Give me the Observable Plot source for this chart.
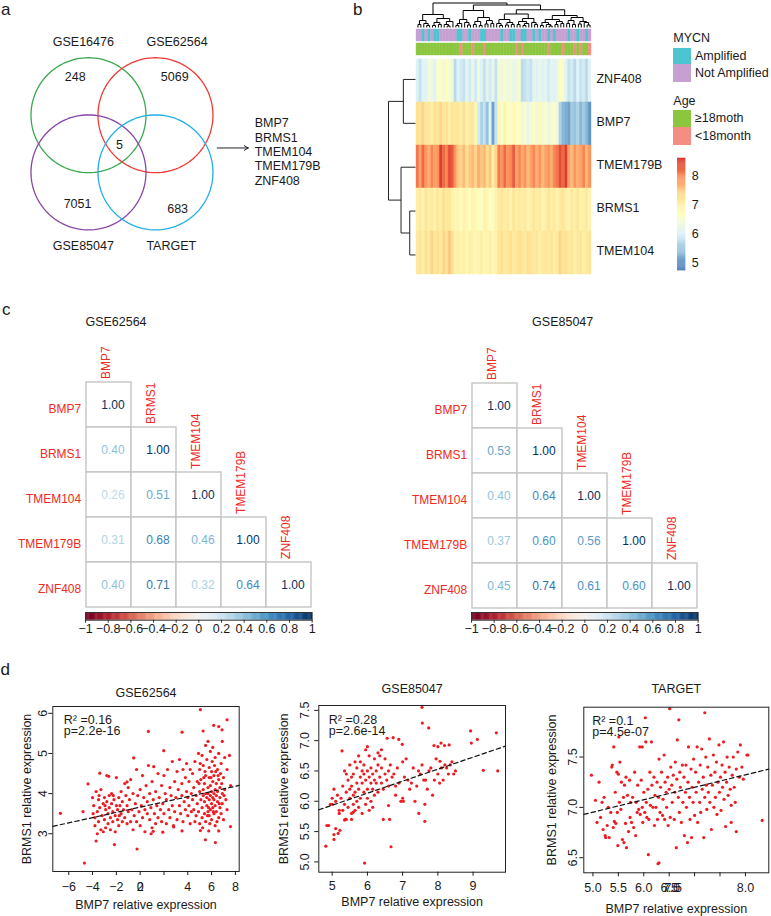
<!DOCTYPE html>
<html><head><meta charset="utf-8">
<script src="https://cdn.jsdelivr.net/npm/d3@7"></script>
<script src="https://cdn.jsdelivr.net/npm/@observablehq/plot@0.6"></script>
<style>
body{margin:0;background:#fff;}
#root{position:relative;width:771px;height:916px;overflow:hidden;font-family:"Liberation Sans",Arial,Helvetica,sans-serif;color:#1a1a1a;background:#fff;}
.t{position:absolute;white-space:nowrap;line-height:1;}
</style></head><body><div id="root"></div>
<script>
// ---------------- DATA ----------------
// panel a: Venn
const vennSets = ["GSE16476","GSE62564","GSE85047","TARGET"];
const vennColors = ["#37a84f","#ee3a36","#8746a6","#22aeea"];
const vennCX = [0, 1.165, 0, 1.165];
const vennCY = [0, 0, -0.995, -0.995];
const vennLabelX = [-0.09, 1.54, -0.09, 1.44];
const vennLabelY = [1.27, 1.27, -2.28, -2.28];
const vennCounts = ["248","5069","5","7051","683"];
const vennCountX = [-0.23, 1.50, 0.54, -0.19, 1.55];
const vennCountY = [0.66, 0.66, -0.51, -1.55, -1.63];
const sharedGenes = ["BMP7","BRMS1","TMEM104","TMEM179B","ZNF408"];
const sharedGeneY = [-0.13, -0.39, -0.64, -0.89, -1.15];

// panel b: heatmap
const heatGenes = ["ZNF408","BMP7","TMEM179B","BRMS1","TMEM104"];
const exprZNF408 = [6.0,5.8,6.1,6.0, 6.4,6.3,6.0, 6.5,6.6,6.4,6.7,6.5,6.3, 5.7,6.0, 5.9,5.8,6.1,5.9,6.2,5.9, 6.4,6.0, 5.8,6.1,5.9,6.2,5.8, 6.4,6.3,6.5,6.3,6.4,6.2,6.3,6.5, 5.7,5.8,5.9,5.8, 6.1,6.0,6.2,6.0,6.1,5.9,6.1,6.0,6.2, 6.7,6.5,6.0, 5.8,5.9,5.7,6.0,5.8,5.9,5.7,6.0];
const exprBMP7 = [7.3,7.2,7.4,7.1, 7.2,7.0,7.3, 7.2,7.4,7.1,7.3,7.0,7.2, 7.1,7.2, 7.0,7.3,6.9,7.1,7.2,6.8, 5.9,5.6, 5.8,5.4,6.0,5.1,5.8, 6.8,6.6,6.9,6.7,6.5,6.8,6.6,6.7, 6.3,6.5,6.2,6.4, 6.6,6.3,6.8,6.4,6.5,6.2,6.4,6.6,6.3, 5.6,5.3,5.2, 5.1,5.5,5.4,5.6,5.3,5.5,5.3,5.0];
const exprTMEM179B = [8.1,7.8,8.2,7.9, 7.7,8.0,7.8, 7.9,8.5,8.2,8.0,8.4,8.3, 7.9,7.5, 7.4,7.6,7.3,7.5,7.6,7.4, 7.7,7.5, 7.6,7.3,7.5,7.0,7.4, 8.1,7.9,8.2,7.9,8.0,8.3,7.8,8.0, 7.7,7.9,7.6,7.8, 8.0,7.7,7.9,7.6,7.8,7.9,7.7,8.0,8.1, 8.4,8.2,8.5, 7.8,7.6,7.9,7.7,7.8,8.0,7.6,7.9];
const exprBRMS1 = [7.0,7.1,6.9,7.2, 7.0,7.1,6.9, 7.2,7.0,7.3,7.1,7.2,6.9, 6.8,6.9, 6.7,6.9,6.8,6.7,6.9,6.8, 6.7,6.6, 6.9,6.8,6.6,6.7,6.9, 7.1,7.2,7.0,7.1,6.9,7.2,7.0,7.1, 7.0,7.1,6.9,7.0, 7.2,7.0,7.1,6.9,7.0,7.2,7.0,7.1,6.9, 7.1,7.2,7.0, 6.9,7.1,7.0,7.2,6.9,7.0,7.1,6.9];
const exprTMEM104 = [7.1,7.2,7.0,7.3, 7.1,7.4,7.2, 7.3,7.1,7.4,7.2,7.5,7.3, 6.9,7.0, 6.9,7.0,6.8,7.0,6.9,6.8, 6.9,7.0, 6.8,6.9,7.0,6.8,6.9, 7.2,7.3,7.1,7.2,7.3,7.1,7.2,7.3, 7.2,7.1,7.3,7.2, 7.1,7.2,7.0,7.1,7.2,7.1,7.2,7.0,7.1, 7.4,7.2,7.3, 7.1,7.2,7.0,7.1,7.2,7.0,7.1,7.2];
const mycnAmplified = [0,0,1,0,1,0,1,1,0,0, 0,0,0,0,1,1,0,0,1,0, 0,0,1,1,0,0,0,0,0,1, 0,0,1,1,0,0,1,1,0,0, 1,0,1,0,0,1,0,1,0,0, 0,0,1,0,0,1,0,0,1,0];
const ageUnder18 = [0,0,0,0,0,0,0,0,0,0, 0,0,0,0,0,1,0,0,0,1, 0,0,0,1,0,0,0,0,0,0, 0,0,0,0,1,0,1,0,0,0, 0,0,0,0,0,1,0,0,0,0, 1,0,0,0,1,0,1,0,0,1];
const mycnLevels = ["Amplified","Not Amplified"];
const mycnColors = ["#4dc5d0","#c7a0d2"];
const ageLevels = ["\u226518moth","<18month"];
const ageColors = ["#8cc63f","#f48e82"];
const heatPalette = ["#4575B4","#91BFDB","#E0F3F8","#FFFFBF","#FEE090","#FC8D59","#D73027"];
const heatRange = [4.72, 8.6];
const heatTicks = [5,6,7,8];
// column dendrogram: [height, left, right], 0 = leaf
const colTree = [24.5,
  [13,
    [7,[3,0,0],[4,0,[2,0,0]]],
    [9,[5,[2,0,0],[3,0,0]],[6,[3,0,[1.5,0,0]],0]]],
  [22.5,
    [17,
      [8,[4,[2,0,0],0],[5,0,[2.5,0,0]]],
      [10,[6,[3,0,0],[2,0,0]],[7,[3.5,0,0],[4,0,0]]]],
    [17.7,
      [13.5,
        [8,[4,0,[2,0,0]],[5,[2.5,0,0],[3,0,0]]],
        [9,[6,[3,0,0],[4,[2,0,0],0]],[5,0,[3,0,0]]]],
      [12,
        [8,[5,[2,0,0],[3,0,[1.5,0,0]]],[6,[3,0,0],[4,0,0]]],
        [10,[7,[4,0,0],[3,0,0]],[6,[3.5,0,0],[5,0,[2.5,0,0]]]]]]]];
const rowTree = [26.7, [12,"ZNF408","BMP7"], [14.3,"TMEM179B",[5.7,"BRMS1","TMEM104"]]];

// panel c: correlation matrices (lower triangle)
const corrGenes = ["BMP7","BRMS1","TMEM104","TMEM179B","ZNF408"];
const corrGSE62564 = [[1.00],[0.40,1.00],[0.26,0.51,1.00],[0.31,0.68,0.46,1.00],[0.40,0.71,0.32,0.64,1.00]];
const corrGSE85047 = [[1.00],[0.53,1.00],[0.40,0.64,1.00],[0.37,0.60,0.56,1.00],[0.45,0.74,0.61,0.60,1.00]];
const corrTicks = [-1,-0.8,-0.6,-0.4,-0.2,0,0.2,0.4,0.6,0.8,1];

// panel d: scatter data [BMP7, BRMS1]
const ptsGSE62564 = [
[-4.0,3.9],[-3.9,3.7],[-3.8,3.4],[-3.8,3.2],[-3.7,4.05],[-3.6,3.55],[-3.6,3.0],[-3.5,3.85],[-3.5,3.3],[-3.4,3.65],[-3.3,3.1],[-3.3,4.1],[-3.2,3.45],[-3.1,3.75],[-3.1,3.05],[-3.0,3.9],[-3.0,3.35],[-2.9,3.6],[-2.9,3.15],[-2.8,4.45],[-2.8,3.8],[-2.7,3.5],[-2.7,3.25],[-2.6,3.95],[-2.6,3.65],[-2.5,3.1],[-2.5,3.4],[-2.4,3.75],[-2.4,4.0],[-2.3,3.55],[-2.3,3.3],[-2.2,3.85],[-2.1,3.45],[-2.1,3.05],[-2.0,3.7],[-2.0,4.4],[-1.9,3.6],[-1.9,3.35],[-1.8,3.9],[-1.8,3.2],[-1.7,3.7],[-1.6,3.5],[-1.6,4.05],[-1.5,3.3],[-1.5,3.8],[-1.4,3.6],[-1.3,4.25],[-1.3,3.4],[-1.2,3.95],[-1.1,3.7],[-1.1,3.25],[-1.0,3.55],[-1.0,4.15],[-3.95,3.5],[-3.45,3.95],[-2.95,3.7],[-2.25,3.95],[-1.75,3.45],
[-0.9,3.85],[-0.8,3.3],[-0.8,4.35],[-0.7,3.6],[-0.6,3.1],[-0.6,4.0],[-0.5,3.45],[-0.4,3.75],[-0.3,4.6],[-0.3,3.3],[-0.2,3.95],[-0.1,3.55],[0.0,3.2],[0.0,4.1],[0.1,3.7],[0.2,3.4],[0.2,4.45],[0.3,3.9],[0.4,3.6],[0.4,3.05],[0.5,4.2],[0.6,3.5],[0.6,3.8],[0.7,4.7],[0.8,3.35],[0.8,4.0],[0.9,3.65],[1.0,3.15],[1.0,4.3],[1.1,3.85],[1.2,3.5],[1.3,4.05],[1.3,3.25],[1.4,3.7],[1.5,4.5],[1.5,3.4],
[1.6,3.9],[1.7,3.6],[1.8,4.2],[1.8,3.3],[1.9,3.75],[2.0,4.45],[2.0,3.5],[2.1,4.0],[2.2,3.25],[2.2,3.85],[2.3,4.6],[2.4,3.6],[2.5,4.15],[2.5,3.4],[2.6,3.95],[2.7,3.7],[2.7,4.8],[2.8,3.2],[2.9,4.3],[2.9,3.55],[3.0,3.9],[3.1,4.55],[3.1,3.35],[3.2,4.1],[3.3,3.7],[3.3,4.85],[3.4,3.5],[3.5,4.25],[3.5,3.95],[3.6,4.6],[3.6,3.3],[3.7,3.8],[3.8,4.4],[3.8,3.6],[3.9,4.05],[3.9,4.75],[4.0,3.45],[4.0,3.9],[4.1,4.3],[4.1,3.7],[4.2,4.6],[4.2,3.25],[4.3,4.0],[4.3,3.55],
[4.4,3.85],[4.4,4.5],[4.5,3.6],[4.5,4.15],[4.6,3.3],[4.6,4.8],[4.7,3.95],[4.7,3.45],[4.8,4.3],[4.8,3.75],[4.9,5.0],[4.9,3.55],[5.0,4.05],[5.0,3.25],[5.0,4.6],[5.1,3.85],[5.1,4.35],[5.2,3.65],[5.2,4.95],[5.2,3.4],[5.3,4.1],[5.3,3.95],[5.3,4.7],[5.4,3.5],[5.4,4.25],[5.4,3.8],[5.5,5.2],[5.5,3.3],[5.5,4.0],[5.5,4.45],[5.6,3.7],[5.6,3.9],[5.6,4.85],[5.7,3.55],[5.7,4.15],[5.7,4.0],[5.7,5.3],[5.8,3.45],[5.8,3.85],[5.8,4.4],[5.8,4.65],[5.9,3.95],[5.9,3.6],[5.9,4.2],[5.9,5.05],[6.0,3.75],[6.0,4.05],[6.0,3.35],[6.0,4.55],[6.1,3.9],[6.1,4.3],[6.1,3.65],[6.1,5.15],[6.2,4.0],[6.2,3.5],[6.2,4.45],[6.2,3.85],[6.3,4.1],[6.3,3.7],[6.3,4.9],[6.3,3.2],[6.4,3.95],[6.4,4.25],[6.4,3.55],[6.5,4.6],[6.5,3.8],[6.5,4.05],[6.6,3.4],[6.6,4.35],[6.6,5.0],[6.7,3.9],[6.7,3.65],[6.7,4.15],[6.8,4.75],[6.8,3.5],[6.9,4.0],[6.9,5.3],[6.9,3.75],[7.0,4.4],[7.0,3.35],[7.1,4.1],[7.1,4.9],[7.2,3.85],[7.3,4.6],[7.3,3.6],[7.5,4.95],[7.6,4.2],[5.05,4.75],[5.45,4.55],[5.85,3.25],[6.25,4.7],[6.45,3.3],[6.75,4.5],[5.25,3.15],[5.65,3.45],[6.05,4.8],[6.55,4.45],[6.85,4.25],[4.95,4.25],[5.35,4.4],[5.75,3.65],[6.15,3.55],[6.35,4.55],[5.95,4.4],[6.65,3.75],[7.05,3.95],
[-6.7,3.51],[-4.68,2.27],[-4.8,3.55],[-4.38,4.24],[-2.16,2.73],[-0.26,2.62],[-3.7,2.82],[0.69,5.55],[3.52,5.53],[5.06,6.09],[7.3,5.84],[6.18,5.7],[6.6,5.67],[6.88,5.59],[5.29,5.56],[5.48,2.85],[6.32,2.78],[5.06,3.08],[5.76,3.07],[6.6,3.07],[7.59,3.18],[3.52,3.07],[2.82,3.17],[0.92,3.0],[1.09,3.06],[1.9,3.04],[-0.54,4.89],[1.98,5.07],[1.14,4.67],[-2.64,4.43],[-3.39,4.51],[-1.1,4.29]];
const ptsGSE85047 = [
[5.25,6.05],[5.3,5.85],[5.3,6.25],[5.35,5.95],[5.35,6.5],[5.4,6.15],[5.4,5.7],[5.45,6.35],[5.45,5.9],[5.5,6.05],[5.5,6.6],[5.55,5.8],[5.55,6.25],[5.6,6.45],[5.6,5.95],[5.6,6.1],[5.65,6.65],[5.65,5.85],[5.7,6.3],[5.7,6.0],[5.7,6.55],[5.75,6.2],[5.75,5.9],[5.8,6.4],[5.8,6.65],[5.8,6.05],[5.85,6.3],[5.85,5.8],[5.9,6.15],[5.9,6.45],[5.9,6.6],[5.95,6.35],[5.95,5.95],[6.0,6.5],[6.0,6.2],[6.0,6.05],[6.05,6.4],[6.05,6.75],[6.1,6.3],[6.1,6.0],[6.1,6.55],[6.15,6.2],[6.15,6.45],[6.2,6.35],[6.2,6.7],[6.2,6.1],[6.25,6.5],[6.25,6.3],[6.3,6.6],[6.3,6.15],[6.35,6.4],[6.35,6.75],[6.4,6.3],[6.4,6.55],[6.45,6.2],[6.5,6.45],[6.5,6.7],[6.55,6.35],[6.6,6.5],[6.6,6.25],[6.65,6.6],[6.7,6.4],[5.95,6.85],[6.4,6.85],[5.55,6.4],[5.75,6.75],[6.05,5.85],[5.5,6.2],[5.65,6.15],[5.85,6.5],[6.15,5.9],[6.3,6.8],[5.4,6.45],[6.0,6.9],
[5.0,6.05],[5.0,5.95],[5.05,5.45],[5.1,5.55],[5.1,6.0],[5.15,6.1],[5.2,5.85],[5.2,5.8],[4.85,5.6],[4.95,5.95],[5.05,6.2],
[6.75,6.45],[6.8,6.1],[6.85,6.55],[6.9,6.3],[6.95,6.0],[7.0,6.65],[7.05,6.4],[7.1,6.7],[7.15,6.35],[7.2,6.2],[7.25,6.3],[7.3,6.55],[7.4,6.25],[7.45,6.5],[7.5,6.45],[7.55,6.6],[7.6,6.35],[7.7,6.2],[7.75,6.5],[7.8,6.55],[7.85,6.1],[7.9,6.35],[7.95,6.7],[8.0,6.45],[8.05,6.3],[8.1,6.55],[8.15,6.35],[8.2,6.6],[8.25,6.55],[8.3,6.45],[8.35,6.6],[8.4,6.65],[8.45,6.45],[8.5,6.5],[7.65,6.35],[8.0,6.9],[7.0,6.05],[6.8,6.25],[7.35,6.0],
[4.82,5.26],[4.9,5.6],[5.05,5.37],[5.17,5.47],[5.22,5.52],[5.28,6.83],[5.92,4.98],[6.67,5.25],[7.55,7.55],[7.56,7.29],[7.74,7.21],[6.73,7.05],[6.56,7.04],[6.89,7.02],[6.99,6.94],[8.93,7.16],[9.12,7.02],[8.95,6.96],[9.66,7.13],[9.7,6.5],[9.29,6.51],[7.46,5.8],[7.63,5.95],[7.63,5.67],[7.02,6.0],[6.63,5.7],[6.45,5.7],[6.6,5.93],[8.19,6.92],[8.09,6.96],[8.32,6.93],[7.89,6.92],[8.06,6.66],[5.55,5.7],[5.6,5.82],[5.35,5.69],[5.37,5.7]];
const ptsTARGET = [
[5.05,7.07],[5.08,6.85],[5.12,7.25],[5.15,6.9],[5.18,7.05],[5.2,6.78],[5.22,7.1],[5.24,6.72],[5.25,6.7],
[5.28,6.82],[5.3,7.0],[5.32,6.7],[5.35,6.95],[5.37,7.4],[5.38,7.42],[5.4,6.8],[5.41,7.6],[5.42,6.86],[5.44,7.15],[5.45,6.84],[5.47,7.35],[5.48,6.95],[5.49,6.62],[5.5,7.33],
[5.52,7.05],[5.53,7.45],[5.55,6.98],[5.56,7.25],[5.58,6.68],[5.6,7.1],[5.61,6.65],[5.62,7.22],[5.64,6.84],[5.65,7.3],[5.66,6.6],[5.68,7.12],[5.7,6.76],[5.72,7.27],[5.73,6.9],[5.74,7.05],
[5.76,6.85],[5.78,7.1],[5.8,6.8],[5.82,7.35],[5.84,6.72],[5.85,7.05],[5.87,6.95],[5.88,7.22],[5.9,6.98],[5.92,7.6],[5.93,6.93],[5.95,7.27],[5.97,7.0],[5.98,6.85],[6.0,7.15],
[6.02,6.95],[6.04,7.65],[6.05,7.05],[6.06,6.9],[6.08,7.18],[6.1,6.88],[6.12,7.35],[6.13,7.02],[6.15,7.65],[6.16,7.22],[6.18,7.0],[6.2,7.3],[6.21,6.82],[6.22,7.12],[6.24,7.0],
[6.26,7.25],[6.27,6.88],[6.29,7.1],[6.3,7.48],[6.32,6.95],[6.33,7.2],[6.35,7.35],[6.37,6.92],[6.38,7.08],[6.4,7.52],[6.41,6.88],[6.42,7.25],[6.44,7.15],[6.45,7.0],[6.47,7.3],[6.48,6.82],[6.5,7.18],
[6.52,6.9],[6.53,7.4],[6.55,7.22],[6.56,7.05],[6.58,7.32],[6.6,6.88],[6.61,7.15],[6.62,7.45],[6.64,6.6],[6.65,7.28],[6.66,7.67],[6.68,7.1],[6.7,6.95],[6.71,7.35],[6.72,7.2],[6.74,6.85],
[6.76,7.42],[6.77,7.05],[6.79,7.3],[6.8,6.72],[6.82,7.15],[6.83,7.42],[6.84,7.0],[6.86,6.65],[6.87,7.25],[6.88,7.6],[6.9,7.1],[6.91,6.88],[6.93,7.38],[6.94,6.7],[6.95,7.2],[6.97,7.05],[6.98,7.48],
[7.0,6.92],[7.02,7.35],[7.03,7.15],[7.05,7.6],[7.06,6.85],[7.08,7.25],[7.1,7.05],[7.11,7.42],[7.12,6.95],[7.14,7.58],[7.15,7.18],[7.17,7.3],[7.18,6.7],[7.2,7.1],[7.22,7.5],[7.23,7.22],[7.24,6.98],
[7.26,7.4],[7.27,7.15],[7.29,7.68],[7.3,7.05],[7.32,7.32],[7.33,6.78],[7.35,7.22],[7.37,7.52],[7.38,7.0],[7.4,7.35],[7.41,7.1],[7.43,7.45],[7.44,6.93],[7.46,7.25],[7.48,7.62],[7.49,7.15],
[7.51,7.3],[7.52,6.97],[7.54,7.42],[7.55,7.2],[7.57,7.65],[7.58,7.08],[7.6,7.35],[7.61,6.81],[7.63,7.25],[7.64,7.5],[7.66,7.12],[7.68,7.4],[7.7,7.18],[7.72,7.02],[7.74,7.32],
[7.76,7.5],[7.78,7.2],[7.8,7.05],[7.82,7.38],[7.85,7.55],[7.88,7.3],[7.9,7.62],[7.93,7.4],[7.96,7.28],[8.05,7.52],
[4.97,7.32],[8.33,6.87],[6.51,7.98],[7.2,7.94],[6.03,7.89],[6.69,7.87],[6.09,6.53],[6.3,6.45],[6.28,6.44],[5.51,7.7],[5.97,7.6],[8.03,7.52],[7.82,6.76],[7.72,6.85]];
const fitGSE62564 = {x:[-7.34, 8.32], y:[3.185, 4.203]};
const fitGSE85047 = {x:[4.62, 9.92], y:[5.86, 6.91]};
const fitTARGET = {x:[4.82, 8.46], y:[6.93, 7.38]};

// ---------------- RENDER ----------------
const FONT = '"Liberation Sans", Arial, Helvetica, sans-serif';
const root = document.getElementById("root");
function place(node, left, top){ node.style.position="absolute"; node.style.left=left+"px"; node.style.top=top+"px"; root.appendChild(node); return node; }
function mk(o){ return Plot.plot(Object.assign({}, o, {style:{fontFamily:FONT, fontSize:"12.5px", background:"transparent", overflow:"visible", color:"#1a1a1a"}})); }
function txt(str, x, y, {size=12.5, anchor="start", baseline=false, color="#1a1a1a"}={}){
  const d = document.createElement("div"); d.className="t"; d.textContent=str;
  d.style.fontSize=size+"px"; d.style.color=color;
  d.style.left=x+"px";
  d.style.top=(baseline ? y-0.8465*size : y-0.49*size)+"px";
  if(anchor==="middle") d.style.transform="translateX(-50%)";
  root.appendChild(d); return d;
}
function dendroSegments(tree, leafPos){
  const segs=[];
  (function walk(node){
    if(!Array.isArray(node)) return {p:leafPos(node), h:0};
    const [h,a,b]=node; const A=walk(a), B=walk(b);
    segs.push({p1:A.p,h1:h,p2:B.p,h2:h},{p1:A.p,h1:A.h,p2:A.p,h2:h},{p1:B.p,h1:B.h,p2:B.p,h2:h});
    return {p:(A.p+B.p)/2, h};
  })(tree);
  return segs;
}
const fmt0 = d3.format("d"), fmt1 = d3.format(".1f"), fmtG = d3.format("");

// ---- panel letters
txt("a", 1, 15, {size:17, baseline:true});
txt("b", 353, 15, {size:17, baseline:true});
txt("c", 2, 315, {size:17, baseline:true});
txt("d", 0.5, 675, {size:17, baseline:true});

// ---- panel a: Venn
{
  const circlePts=[];
  vennSets.forEach((s,k)=>{ for(let a=0;a<=360;a+=3){ const t=a*Math.PI/180; circlePts.push({set:s,x:vennCX[k]+Math.cos(t),y:vennCY[k]+Math.sin(t)}); } });
  place(mk({width:300,height:270,margin:0,
    x:{domain:[-1.530,3.687],axis:null}, y:{domain:[-2.701,1.995],axis:null},
    color:{domain:vennSets,range:vennColors},
    marks:[
      Plot.line(circlePts,{x:"x",y:"y",z:"set",stroke:"set",strokeWidth:1.3}),
      Plot.text(vennSets,{x:(d,i)=>vennLabelX[i],y:(d,i)=>vennLabelY[i],text:d=>d,fontSize:12.5,fill:"#1a1a1a"}),
      Plot.text(vennCounts,{x:(d,i)=>vennCountX[i],y:(d,i)=>vennCountY[i],text:d=>d,fontSize:12.5,fill:"#1a1a1a"}),
      Plot.arrow([0],{x1:2.24,y1:-0.57,x2:2.78,y2:-0.57,stroke:"#222",strokeWidth:1,headLength:7}),
      Plot.text(sharedGenes,{x:2.89,y:(d,i)=>sharedGeneY[i],text:d=>d,textAnchor:"start",fontSize:12.5,fill:"#1a1a1a"})
    ]}), 0, 0);
}

// ---- panel b: heatmap
{
  const N = exprBMP7.length;
  const cols = d3.range(N);
  const exprByGene = {ZNF408:exprZNF408, BMP7:exprBMP7, TMEM179B:exprTMEM179B, BRMS1:exprBRMS1, TMEM104:exprTMEM104};
  let leaf=0;
  const colSegs = dendroSegments(colTree, ()=> (leaf++) + 0.5);
  place(mk({width:175,height:27,margin:0,x:{domain:[0,N],axis:null},y:{domain:[0,27],axis:null},
    marks:[Plot.link(colSegs,{x1:"p1",y1:"h1",x2:"p2",y2:"h2",stroke:"#000",strokeWidth:1})]}), 415.7, 0);

  const annot = [];
  cols.forEach(i=>{ annot.push({i,track:"MYCN",cat:mycnLevels[mycnAmplified[i]?0:1]}); annot.push({i,track:"Age",cat:ageLevels[ageUnder18[i]?1:0]}); });
  place(mk({width:175,height:26.4,margin:0,
    x:{type:"band",domain:cols,padding:0,axis:null},
    y:{type:"band",domain:["MYCN","Age"],range:[0,26.4],paddingInner:0.17,paddingOuter:0,axis:null},
    color:{domain:[...mycnLevels,...ageLevels],range:[...mycnColors,...ageColors]},
    marks:[Plot.cell(annot,{x:"i",y:"track",fill:"cat",stroke:"cat",strokeWidth:0.4})]}), 415.7, 29.3);

  const heat = heatGenes.flatMap(g=>exprByGene[g].map((v,i)=>({gene:g,i,v})));
  const heatColor = {type:"linear",domain:heatRange,interpolate:d3.piecewise(d3.interpolateRgb,heatPalette)};
  place(mk({width:175+80,height:219.4,marginLeft:0,marginTop:0,marginBottom:0,marginRight:80,
    x:{type:"band",domain:cols,padding:0,axis:null},
    y:{type:"band",domain:heatGenes,padding:0},
    color:heatColor,
    marks:[
      Plot.cell(heat,{x:"i",y:"gene",fill:"v",stroke:"v",strokeWidth:0.4}),
      Plot.axisY({anchor:"right",tickSize:0,tickPadding:5,fontSize:12.5,label:null,dy:-2})
    ]}), 415.7, 57.3);

  const rowSegs = dendroSegments(rowTree, g=>heatGenes.indexOf(g)+0.5);
  place(mk({width:27,height:219.4,margin:0,x:{domain:[0,26.7],reverse:true,axis:null},y:{domain:[0,5],reverse:true,axis:null},
    marks:[Plot.link(rowSegs,{x1:"h1",y1:"p1",x2:"h2",y2:"p2",stroke:"#222",strokeWidth:1})]}), 388.3, 57.3);

  // legend
  txt("MYCN", 673.3, 38.3);
  const sw = (c,top,h)=>{ const d=document.createElement("div"); d.style.cssText=`position:absolute;left:673.3px;top:${top}px;width:17.4px;height:${h}px;background:${c}`; root.appendChild(d); };
  sw(mycnColors[0],47.7,16.6); sw(mycnColors[1],64.3,18);
  txt(mycnLevels[0], 695, 56); txt(mycnLevels[1], 695, 73.3);
  txt("Age", 673.3, 100.7);
  sw(ageColors[0],110,17.3); sw(ageColors[1],127.3,17.7);
  txt(ageLevels[0], 695, 118.3); txt(ageLevels[1], 695, 136);
  const step=(heatRange[1]-heatRange[0])/120;
  const ramp=d3.range(heatRange[0],heatRange[1],step);
  place(mk({width:8.3+25,height:112.4,marginLeft:0,marginTop:0,marginBottom:0,marginRight:25,
    x:{domain:[0,1],axis:null},y:{domain:heatRange},color:heatColor,
    marks:[
      Plot.rect(ramp,{x1:0,x2:1,y1:d=>d,y2:d=>d+step*1.3,fill:d=>d+step/2}),
      Plot.axisY({anchor:"right",ticks:heatTicks,tickFormat:fmt0,tickSize:0,tickPadding:6,fontSize:12.5,label:null})
    ]}), 676.7, 158.3);
}

// ---- panel c: correlation triangles
function corrPlot(matrix, left, top, title, titleX){
  const cells=[];
  matrix.forEach((row,i)=>row.forEach((v,j)=>cells.push({row:corrGenes[i],col:corrGenes[j],v})));
  const cw = 226.5/5;
  place(mk({width:85.7+226.5+30,height:81+226.5+2,marginLeft:85.7,marginTop:81,marginRight:30,marginBottom:2,
    x:{type:"band",domain:corrGenes,padding:0,axis:null},
    y:{type:"band",domain:corrGenes,padding:0},
    color:{type:"linear",scheme:"RdBu",domain:[-1,1]},
    marks:[
      Plot.cell(cells,{x:"col",y:"row",fill:"white",stroke:"#c4c4c4",strokeWidth:1.4}),
      Plot.text(cells,{x:"col",y:"row",text:d=>d.v.toFixed(2),fill:"v",dx:4,fontSize:12}),
      Plot.axisY({anchor:"left",tickSize:0,tickPadding:5,color:"#ef2b24",fontSize:12,label:null,dy:4}),
      Plot.text(corrGenes,{x:d=>d,y:d=>d,text:d=>d,rotate:-90,textAnchor:"start",dx:-3,dy:-(cw/2+3.4),fill:"#ef2b24",fontSize:12})
    ]}), left, top);
  txt(title, titleX, 321.7, {anchor:"middle"});
}
corrPlot(corrGSE62564, 0, 299.7, "GSE62564", 116);
corrPlot(corrGSE85047, 386, 300.7, "GSE85047", 562.7);

function corrBar(left){
  const ramp=d3.range(-1,1,0.01);
  place(mk({width:226.7+20,height:7.7+24,marginLeft:10,marginRight:10,marginTop:0,marginBottom:24,
    x:{domain:[-1,1]},y:{domain:[0,1],axis:null},
    color:{type:"linear",scheme:"RdBu",domain:[-1,1]},
    marks:[
      Plot.rect(ramp,{x1:d=>d,x2:d=>d+0.013,y1:0,y2:1,fill:d=>d+0.005}),
      Plot.frame({stroke:"#333",strokeWidth:1}),
      Plot.axisX({ticks:corrTicks,tickFormat:fmtG,tickSize:3,tickPadding:1,fontSize:12.5,label:null,stroke:"#333"})
    ]}), left-10, 612.3);
}
corrBar(85.3);
corrBar(471.2);

// ---- panel d: scatter plots
function scatter(c){
  const mL=c.fx0-c.left, mT=c.fy0-678, mR=c.mR, mB=916-c.fy1;
  const fw=c.fx1-c.fx0, fh=c.fy1-c.fy0;
  const fit=c.fit.x.map((x,i)=>[x,c.fit.y[i]]);
  const T = {fontSize:12.5, fill:"#1a1a1a"};
  place(mk({width:mL+fw+mR,height:mT+fh+mB,marginLeft:mL,marginTop:mT,marginRight:mR,marginBottom:mB,
    x:{domain:c.xDomain},y:{domain:c.yDomain},
    marks:[
      Plot.dot(c.pts,{x:d=>d[0],y:d=>d[1],r:1.6,fill:"#ee1c22"}),
      Plot.line(fit,{x:d=>d[0],y:d=>d[1],stroke:"#111",strokeWidth:1.2,strokeDasharray:"4.5,3"}),
      Plot.frame({stroke:"#222",strokeWidth:1}),
      Plot.axisX({ticks:c.xTicks,tickFormat:c.xFmt,tickSize:4,tickPadding:c.xPad,fontSize:12.5,label:null}),
      Plot.axisY({ticks:c.yTicks,tickFormat:c.yFmt,tickSize:4,tickPadding:c.yPad,tickRotate:-90,fontSize:12.5,label:null}),
      ...c.extra.map(e=>Plot.text([e.t],{...T,x:e.x,frameAnchor:"bottom",textAnchor:"middle",lineAnchor:"top",dy:4+c.xPad,dx:e.dx})),
      Plot.text([c.r2],{...T,frameAnchor:"top-left",textAnchor:"start",lineAnchor:"middle",dx:c.tdx,dy:14}),
      Plot.text([c.p],{...T,frameAnchor:"top-left",textAnchor:"start",lineAnchor:"middle",dx:c.tdx,dy:25}),
      Plot.text([c.title],{...T,frameAnchor:"top",textAnchor:"middle",lineAnchor:"middle",dy:c.titleDy}),
      Plot.text(["BMP7 relative expression"],{...T,frameAnchor:"bottom",textAnchor:"middle",lineAnchor:"middle",dy:c.xlabDy}),
      Plot.text(["BRMS1 relative expression"],{...T,frameAnchor:"left",textAnchor:"middle",lineAnchor:"middle",rotate:-90,dx:c.ylabDx})
    ]}), c.left, 678);
}
scatter({left:0, fx0:52.3, fx1:238.7, fy0:706, fy1:871, mR:8,
  xDomain:[-7.34,8.32], yDomain:[2.06,6.17], pts:ptsGSE62564, fit:fitGSE62564,
  xTicks:[-6,-4,-2,0,2,4,6,8], xFmt:d=>d===2?"":fmt0(d), yTicks:[3,4,5,6], yFmt:fmt0,
  xPad:7, yPad:2, extra:[{t:"2",x:0,dx:0}],
  r2:"R\u00b2 =0.16", p:"p=2.2e-16", tdx:11, title:"GSE62564", titleDy:-13.3, xlabDy:34, ylabDx:-25.6});
scatter({left:260, fx0:318.3, fx1:505, fy0:705, fy1:871.7, mR:8,
  xDomain:[4.62,9.92], yDomain:[4.83,7.58], pts:ptsGSE85047, fit:fitGSE85047,
  xTicks:[5,6,7,8,9], xFmt:fmt0, yTicks:[5,5.5,6,6.5,7,7.5], yFmt:fmt1,
  xPad:5, yPad:6, extra:[],
  r2:"R\u00b2 =0.28", p:"p=2.6e-14", tdx:10, title:"GSE85047", titleDy:-16.7, xlabDy:29.3, ylabDx:-35});
scatter({left:515, fx0:583.3, fx1:768.3, fy0:706.7, fy1:872.3, mR:2.7,
  xDomain:[4.82,8.46], yDomain:[6.35,7.995], pts:ptsTARGET, fit:fitTARGET,
  xTicks:[5,5.5,6,6.5,7,7.5,8], xFmt:d=>(d===7||d===7.5)?"":fmt1(d), yTicks:[6.5,7,7.5], yFmt:fmt1,
  xPad:6, yPad:3, extra:[{t:"7.0",x:6.5,dx:2},{t:"7.5",x:6.5,dx:4}],
  r2:"R\u00b2 =0.1", p:"p=4.5e-07", tdx:8.4, title:"TARGET", titleDy:-18.4, xlabDy:36, ylabDx:-31.6});
</script></body></html>
